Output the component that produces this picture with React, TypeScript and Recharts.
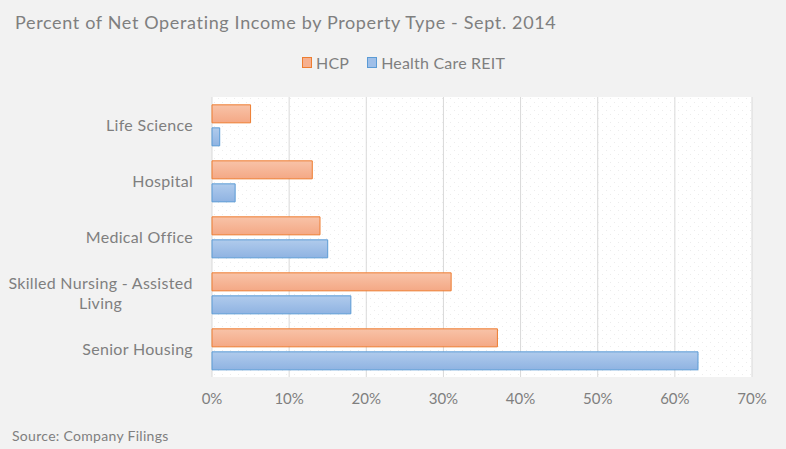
import React from 'react';
import { BarChart, Bar, XAxis, YAxis, CartesianGrid } from 'recharts';

const categories = ['Life Science', 'Hospital', 'Medical Office', 'Skilled Nursing - Assisted Living', 'Senior Housing'];
const hcpValues = [5, 13, 14, 31, 37];
const hcrValues = [1, 3, 15, 18, 63];
const xTicks = [0, 10, 20, 30, 40, 50, 60, 70];

const data = categories.map((name, i) => ({ name, hcp: hcpValues[i], hcr: hcrValues[i] }));

const FONT = 'Lato, "Open Sans", sans-serif';
const TEXT = '#7f7f7f';

let ctx: CanvasRenderingContext2D | null = null;
function measure(text: string, font: string, spacing: number) {
  if (!ctx) ctx = document.createElement('canvas').getContext('2d');
  if (!ctx) return text.length * 8;
  ctx.font = font;
  return ctx.measureText(text).width + spacing * text.length;
}

function wrap(label: string, max: number) {
  const words = label.split(' ');
  const lines: string[] = [];
  let cur = '';
  words.forEach(w => {
    const next = cur ? cur + ' ' + w : w;
    if (next.length > max && cur) {
      lines.push(cur);
      cur = w;
    } else cur = next;
  });
  if (cur) lines.push(cur);
  return lines;
}

const CategoryTick = ({ x, y, payload }: any) => {
  const lines = wrap(payload.value, 26);
  const font = `16px ${FONT}`;
  const spacing = 0.3;
  if (lines.length === 1) {
    return (
      <text x={x} y={y} dy="0.35em" textAnchor="end" fill={TEXT} fontSize={16} fontFamily={FONT} letterSpacing={spacing}>
        {payload.value}
      </text>
    );
  }
  const w = Math.max(...lines.map(l => measure(l, font, spacing)));
  const cx = x - w / 2;
  const lh = 20;
  const start = y - ((lines.length - 1) * lh) / 2;
  return (
    <text textAnchor="middle" fill={TEXT} fontSize={16} fontFamily={FONT} letterSpacing={spacing}>
      {lines.map((l, i) => (
        <tspan key={i} x={cx} y={start + i * lh} dy="0.35em">{l}</tspan>
      ))}
    </text>
  );
};

const LegendBox = () => (
  <div style={{ position: 'absolute', left: 302, top: 53, display: 'flex', fontSize: 16, color: TEXT, letterSpacing: 0.2, whiteSpace: 'nowrap' }}>
    <span style={{ display: 'flex', alignItems: 'center', marginRight: 18 }}>
      <span style={{ width: 8, height: 9, background: '#f6b08f', border: '1px solid #ed7d31', marginRight: 4 }} />
      HCP
    </span>
    <span style={{ display: 'flex', alignItems: 'center' }}>
      <span style={{ width: 8, height: 9, background: '#9fbfe8', border: '1px solid #5b9bd5', marginRight: 4 }} />
      Health Care REIT
    </span>
  </div>
);

export default function App() {
  return (
    <div style={{ position: 'absolute', left: 0, top: 0, width: 786, height: 449, background: '#f2f2f2', fontFamily: FONT }}>
      <div style={{ position: 'absolute', left: 15, top: 11, fontSize: 18, color: TEXT, whiteSpace: 'nowrap', letterSpacing: 0.65 }}>
        Percent of Net Operating Income by Property Type - Sept. 2014
      </div>
      <LegendBox />
      <BarChart
        width={786}
        height={449}
        data={data}
        layout="vertical"
        margin={{ top: 97, right: 34, left: 0, bottom: 0 }}
        barCategoryGap="14%"
        barGap={5}
      >
        <defs>
          <pattern id="dots" width="8" height="8" patternUnits="userSpaceOnUse">
            <rect width="8" height="8" fill="#ffffff" />
            <rect x="2" y="2" width="1" height="1" fill="#ececec" />
            <rect x="6" y="6" width="1" height="1" fill="#ececec" />
          </pattern>
          <linearGradient id="gOrange" x1="0" y1="0" x2="0" y2="1">
            <stop offset="0%" stopColor="#f8c3a8" />
            <stop offset="100%" stopColor="#f4a885" />
          </linearGradient>
          <linearGradient id="gBlue" x1="0" y1="0" x2="0" y2="1">
            <stop offset="0%" stopColor="#b0cbec" />
            <stop offset="100%" stopColor="#8fb3e2" />
          </linearGradient>
        </defs>
        <CartesianGrid horizontal={false} stroke="#d9d9d9" fill="url(#dots)" />
        <XAxis
          type="number"
          domain={[0, 70]}
          ticks={xTicks}
          tickFormatter={v => `${v}%`}
          axisLine={false}
          tickLine={false}
          tickSize={0}
          tickMargin={16}
          height={72}
          tick={{ fill: TEXT, fontSize: 15, fontFamily: FONT }}
          interval={0}
        />
        <YAxis
          type="category"
          dataKey="name"
          width={212}
          axisLine={false}
          tickLine={false}
          tickSize={0}
          tickMargin={19}
          tick={<CategoryTick />}
          interval={0}
        />
        <Bar dataKey="hcp" name="HCP" fill="url(#gOrange)" stroke="#ed7d31" strokeWidth={1} isAnimationActive={false} />
        <Bar dataKey="hcr" name="Health Care REIT" fill="url(#gBlue)" stroke="#5b9bd5" strokeWidth={1} isAnimationActive={false} />
      </BarChart>
      <div style={{ position: 'absolute', left: 12, top: 427, fontSize: 14, color: TEXT, whiteSpace: 'nowrap', letterSpacing: 0.3 }}>
        Source: Company Filings
      </div>
    </div>
  );
}
